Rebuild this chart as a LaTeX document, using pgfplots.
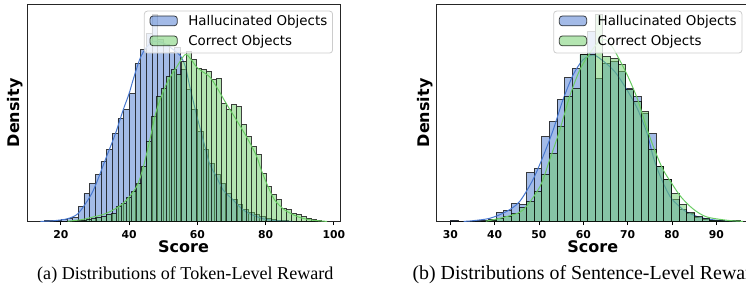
\documentclass[border=0pt]{standalone}
\usepackage{pgfplots}
\pgfplotsset{compat=1.18}
\usepackage{fontspec}
\setmainfont{Liberation Serif}
\newfontfamily\dejavu{DejaVu Sans}
\definecolor{hblue}{RGB}{72,120,208}
\definecolor{cgreen}{RGB}{106,204,100}
\definecolor{lgframe}{RGB}{204,204,204}

\pgfplotsset{
  rewardaxis/.style={
    scale only axis, width=313pt, height=217.7pt,
    ymin=0, ymax=217.7, ytick=\empty,
    axis line style={black!85, line width=0.9pt},
    tick align=outside, xtick pos=bottom, major tick length=3.5pt,
    every tick/.style={black, line width=0.8pt},
    /pgf/number format/assume math mode=true,
    xticklabel style={font=\dejavu\bfseries\fontsize{10.8}{12}\selectfont, anchor=base, yshift=-13pt, inner sep=0pt},
    xlabel={Score}, ylabel={Density},
    xlabel style={font=\dejavu\bfseries\fontsize{16}{18}\selectfont, at={(axis description cs:0.5,0)}, anchor=base, yshift=-31pt, inner sep=0pt},
    ylabel style={font=\dejavu\bfseries\fontsize{16}{18}\selectfont, at={(axis description cs:-0.011,0.5)}, anchor=south, inner sep=0pt},
    legend style={at={(1,1)}, anchor=north east, xshift=-7pt, yshift=-6.7pt,
      draw=lgframe, line width=0.8pt, rounded corners=3pt, fill=white, fill opacity=0.8,
      draw opacity=1, text opacity=1,
      font=\dejavu\fontsize{13.4}{15}\selectfont,
      inner xsep=5.3pt, inner ysep=4.5pt, row sep=7pt, column sep=10.7pt,
      cells={anchor=base west}, nodes={inner sep=0pt, text depth=2.8pt}},
  },
  histbar/.style={ybar, bar shift=0pt, bar width=#1, draw=black, draw opacity=0.75, line width=0.75pt,
    legend image code/.code={\draw[##1, bar width=0pt] (0pt,0pt) rectangle (27.3pt,9.8pt);}},
}

\begin{document}
\begin{tikzpicture}
\path[use as bounding box] (0pt,0pt) rectangle (746pt,289pt);
\clip (0pt,0pt) rectangle (746pt,289pt);

% ---------------- (a) token level ----------------
\begin{axis}[rewardaxis, at={(27pt,67.3pt)}, anchor=south west,
  xmin=10.1, xmax=101.8, xtick={20,40,60,80,100}]
\addplot[histbar=1.66, fill=hblue, fill opacity=0.5] coordinates {
(16.00,1) (17.66,1) (19.32,1.5) (20.98,2) (22.64,3) (24.30,4) (25.96,15) (27.62,28)
(29.28,38) (30.94,47) (32.60,60) (34.26,72) (35.92,88) (37.58,103) (39.24,112) (40.90,128)
(42.56,158) (44.22,172) (45.88,188) (47.54,207) (49.20,182) (50.86,177) (52.52,169) (54.18,174)
(55.84,152) (57.50,132) (59.16,112) (60.82,90) (62.48,72) (64.14,58) (65.80,47) (67.46,38)
(69.12,28) (70.78,22) (72.44,17) (74.10,12) (75.76,9) (77.42,7) (79.08,5) (80.74,3)
(82.40,2.5) (84.06,1.5) (85.72,1) (87.38,0.7)};
\addlegendentry{Hallucinated Objects}
\addplot[hblue, line width=1pt, smooth, forget plot] coordinates {
(14,0.3) (18,1) (22,3) (25,8) (28,22) (30,35) (33.4,65) (36,88) (38.3,112) (40,128)
(41.2,142) (43.2,163) (45,174) (47,180) (49,180) (51,177) (53,172) (55,166) (56.5,155)
(57.8,135) (59.7,108) (61.7,82) (63.6,58) (65.6,45) (67.5,32) (70.4,22) (73,13) (75.3,8)
(79.2,3) (83,1) (88,0.3)};
\addplot[histbar=1.46, fill=cgreen, fill opacity=0.5] coordinates {
(22.49,0.5) (23.95,0.7) (25.41,1) (26.87,1.5) (28.33,2.5) (29.79,3) (31.25,4) (32.71,5)
(34.17,7) (35.63,8) (37.09,15) (38.55,18) (40.01,24) (41.47,30) (42.93,38) (44.39,55)
(45.85,80) (47.31,105) (48.77,125) (50.23,133) (51.69,145) (53.15,152) (54.61,147) (56.07,160)
(57.53,170) (58.99,162) (60.45,153) (61.91,152) (63.37,150) (64.83,142) (66.29,143) (67.75,118)
(69.21,112) (70.67,117) (72.13,115) (73.59,97) (75.05,85) (76.51,75) (77.97,67) (79.43,48)
(80.89,35) (82.35,27) (83.81,22) (85.27,13) (86.73,12) (88.19,8) (89.65,7) (91.11,5)
(92.57,3.4) (94.03,2) (95.49,1.2) (96.95,0.7)};
\addlegendentry{Correct Objects}
\addplot[cgreen, line width=1pt, smooth, forget plot] coordinates {
(22,0.5) (26,2) (28.6,4) (33.4,8.4) (38.3,18.4) (42.2,35) (44.2,55) (46.1,82) (48.1,112)
(51.0,138) (54.0,155) (56.4,167) (58,163) (59.7,155) (61.5,150) (63.6,145) (65.6,135)
(68.5,118) (71.4,102) (74.4,85) (77.3,66) (78.7,52) (80.6,36) (82.6,22) (85.5,12)
(89.4,5) (93.3,1.7) (98,0.3)};
\end{axis}

% ---------------- (b) sentence level ----------------
\begin{axis}[rewardaxis, at={(436.3pt,67.3pt)}, anchor=south west,
  xmin=26.84, xmax=97.45, xtick={30,40,50,60,70,80,90}]
\addplot[histbar=1.72, fill=hblue, fill opacity=0.5] coordinates {
(30.86,1.7) (32.58,0) (34.30,0.5) (36.02,1) (37.74,1.7) (39.46,2.7) (41.18,9) (42.90,11)
(44.62,18) (46.34,17) (48.06,49) (49.78,53) (51.50,85) (53.22,100) (54.94,122) (56.66,144)
(58.38,153) (60.10,167) (61.82,190) (63.54,143) (65.26,158) (66.98,160) (68.70,150) (70.42,133)
(72.14,125) (73.86,108) (75.58,88) (77.30,55) (79.02,42) (80.74,22) (82.46,12) (84.18,8)
(85.90,4) (87.62,2) (89.34,1.5) (91.06,0.5) (92.78,0.5)};
\addlegendentry{Hallucinated Objects}
\addplot[hblue, line width=1pt, smooth, forget plot] coordinates {
(33,0.3) (35.1,1) (38.9,3.4) (42.6,10) (45.6,20) (48.6,41.7) (50.9,65) (53.2,91.7)
(55.4,121.7) (57.7,146.7) (59.9,161.7) (62.2,166.7) (64.1,162) (67.1,150) (70.1,130)
(72.3,112) (74.4,88) (75.9,63) (77.6,43) (79.6,25) (81.5,16) (83.2,10) (86.2,4.5)
(90,1.5) (95,0.3)};
\addplot[histbar=1.72, fill=cgreen, fill opacity=0.5] coordinates {
(37.74,0) (39.46,1.5) (41.18,3) (42.90,5.7) (44.62,8.4) (46.34,14) (48.06,20) (49.78,30)
(51.50,47) (53.22,68) (54.94,95) (56.66,125) (58.38,133) (60.10,167) (61.82,167) (63.54,207)
(65.26,165) (66.98,163) (68.70,157) (70.42,132) (72.14,120) (73.86,110) (75.58,72) (77.30,55)
(79.02,42) (80.74,28) (82.46,17) (84.18,9) (85.90,5) (87.62,3) (89.34,1.5) (91.06,1)
(92.78,0.5) (94.50,1.7)};
\addlegendentry{Correct Objects}
\addplot[cgreen, line width=1pt, smooth, forget plot] coordinates {
(38,0.5) (42.6,5) (46.4,11.7) (50.2,35) (52.4,61.7) (54.7,91.7) (56.9,125) (59.2,151.7)
(61.4,168) (63.5,180) (65,182) (66.5,175) (67.8,165) (70.1,145) (72.3,121.7) (74.2,95)
(76.1,71.7) (78.0,52) (80,38) (82,25) (84.7,13) (87.7,5) (92.3,1.5) (96,0.3)};
\end{axis}

\node[anchor=base west, inner sep=0pt, font=\fontsize{18.1}{21}\selectfont] at (37pt,10pt) {(a) Distributions of Token-Level Reward};
\node[anchor=base west, inner sep=0pt, font=\fontsize{19.9}{22}\selectfont] at (412.3pt,10pt) {(b) Distributions of Sentence-Level Reward};
\end{tikzpicture}
\end{document}
